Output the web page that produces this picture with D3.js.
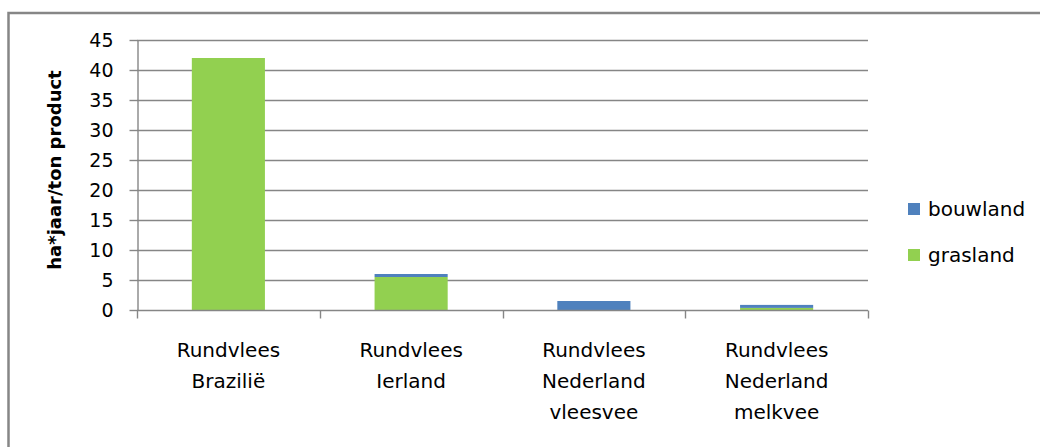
<!DOCTYPE html>
<html>
<head>
<meta charset="utf-8">
<script src="https://cdn.jsdelivr.net/npm/d3@7"></script>
<style>
  body { margin: 0; background: #fff; }
  svg { display: block; }
  text { font-family: "DejaVu Sans", sans-serif; fill: #000; }
</style>
</head>
<body>
<svg id="chart" width="1040" height="447"></svg>
<script>
const categories = [
  ["Rundvlees", "Brazilië"],
  ["Rundvlees", "Ierland"],
  ["Rundvlees", "Nederland", "vleesvee"],
  ["Rundvlees", "Nederland", "melkvee"]
];
const grasland = [42, 5.5, 0, 0.35];
const bouwland = [0, 0.5, 1.5, 0.5];
const yTicks = [0, 5, 10, 15, 20, 25, 30, 35, 40, 45];
const seriesNames = ["bouwland", "grasland"];
const colors = { bouwland: "#4F81BD", grasland: "#92D050" };
const yTitle = "ha*jaar/ton product";

const svg = d3.select("#chart");
const grid = "#868686";

// outer chart border
svg.append("rect")
  .attr("x", 8.5).attr("y", 13)
  .attr("width", 1100).attr("height", 500)
  .attr("fill", "none").attr("stroke", grid).attr("stroke-width", 2.5);

const plot = { left: 137, right: 868, top: 40, bottom: 310 };

const x = d3.scaleBand()
  .domain(d3.range(categories.length))
  .range([plot.left, plot.right])
  .padding(0);

const y = d3.scaleLinear().domain([0, 45]).range([plot.bottom, plot.top]);

// gridlines
svg.append("g").selectAll("line")
  .data(yTicks.filter(t => t > 0))
  .join("line")
  .attr("x1", plot.left).attr("x2", plot.right)
  .attr("y1", d => Math.round(y(d)) + 0.5).attr("y2", d => Math.round(y(d)) + 0.5)
  .attr("stroke", grid).attr("stroke-width", 1.4);

// y axis
const yAxis = d3.axisLeft(y).tickValues(yTicks).tickSize(8).tickPadding(16).tickSizeOuter(0);
const gy = svg.append("g").attr("transform", `translate(${plot.left + 0.5},0)`).call(yAxis);
gy.select(".domain").attr("stroke", grid).attr("stroke-width", 1.4);
gy.selectAll(".tick line").attr("stroke", grid).attr("stroke-width", 1.4);
gy.selectAll(".tick text")
  .style("font-family", "'DejaVu Sans', sans-serif")
  .style("font-size", "19px").attr("fill", "#111");
gy.selectAll(".tick").attr("transform", d => `translate(0,${Math.round(y(d)) + 0.5})`);

// bars
const barW = x.bandwidth() * 0.4;
const stackData = categories.map((c, i) => ({ i, grasland: grasland[i], bouwland: bouwland[i] }));
const stack = d3.stack().keys(["grasland", "bouwland"]);
const layers = stack(stackData);
svg.append("g").selectAll("g")
  .data(layers)
  .join("g")
  .attr("fill", d => colors[d.key])
  .selectAll("rect")
  .data(d => d)
  .join("rect")
  .attr("x", d => x(d.data.i) + (x.bandwidth() - barW) / 2)
  .attr("width", barW)
  .attr("y", d => y(d[1]))
  .attr("height", d => y(d[0]) - y(d[1]));

// x axis
const gx = svg.append("g").attr("transform", `translate(0,${plot.bottom + 0.5})`);
gx.append("line").attr("x1", plot.left).attr("x2", plot.right)
  .attr("stroke", grid).attr("stroke-width", 1.4);
const boundaries = d3.range(categories.length + 1).map(i => i < categories.length ? x(i) : x(categories.length - 1) + x.bandwidth());
gx.selectAll("line.tk").data(boundaries).join("line").attr("class", "tk")
  .attr("x1", d => Math.round(d) + 0.5).attr("x2", d => Math.round(d) + 0.5)
  .attr("y1", 0).attr("y2", 8)
  .attr("stroke", grid).attr("stroke-width", 1.4);

// category labels
categories.forEach((lines, i) => {
  const t = svg.append("text")
    .attr("x", x(i) + x.bandwidth() / 2)
    .attr("y", 357)
    .attr("text-anchor", "middle")
    .style("font-size", "20px");
  lines.forEach((l, j) => {
    t.append("tspan").attr("x", x(i) + x.bandwidth() / 2).attr("dy", j === 0 ? 0 : 30.8).text(l);
  });
});

// y title
svg.append("text")
  .attr("transform", `translate(61,${(plot.top + plot.bottom) / 2 - 5}) rotate(-90)`)
  .attr("text-anchor", "middle")
  .style("font-size", "18px").style("font-weight", "bold")
  .text(yTitle);

// legend
const legend = svg.append("g");
seriesNames.forEach((name, i) => {
  const cy = 209 + i * 46;
  legend.append("rect").attr("x", 908).attr("y", cy - 6).attr("width", 12).attr("height", 12)
    .attr("fill", colors[name]);
  legend.append("text").attr("x", 928).attr("y", cy + 7)
    .style("font-size", "20px").text(name);
});
</script>
</body>
</html>
